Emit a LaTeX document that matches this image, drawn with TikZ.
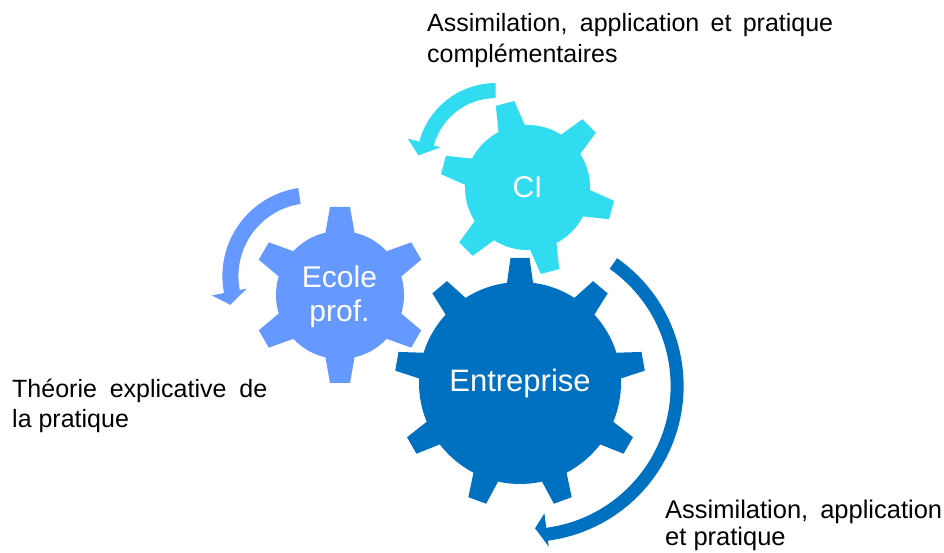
\documentclass[tikz,border=0pt]{standalone}
\usepackage{fontspec}
\setmainfont{Liberation Sans}
\definecolor{entc}{RGB}{0,112,192}
\definecolor{ecoc}{RGB}{102,153,255}
\definecolor{cic}{RGB}{50,220,240}
\newcommand\mygear[9]{%
  \path[#9] (#1,#2) circle[radius=#3];
  \foreach \k in {1,...,#7}{%
    \path[#9, shift={(#1,#2)}, rotate={#8+360/#7*(\k-1)}]
      (#3-4,-#6/2) -- (#4,-#5/2) -- (#4,#5/2) -- (#3-4,#6/2) -- cycle;}%
}
\tikzset{
  gearline/.style={draw=white, line width=3pt, line join=round},
  lbl/.style={font=\fontsize{25}{31}\selectfont, inner sep=0pt, text=black, anchor=base west},
  glabel/.style={inner sep=0pt, text=white, anchor=base},
}
\begin{document}
\begin{tikzpicture}[x=1pt,y=1pt]
\useasboundingbox (0,0) rectangle (944,553);
% curved arrows
\fill[cic, shift={(495.6,390.9)}] (90:79) arc[start angle=90, end angle=165, radius=79]
  -- (165:91) -- (175:77.5) -- (165:57) -- (165:64)
  arc[start angle=165, end angle=90, radius=64] -- cycle;
\fill[ecoc, shift={(311.4,276.9)}] (98.5:89) arc[start angle=98.5, end angle=191, radius=89]
  -- (191:101.5) -- (199.5:86) -- (191:66) -- (191:73)
  arc[start angle=191, end angle=98.5, radius=73] -- cycle;
\fill[entc, shift={(527.6,167)}] (55:156) arc[start angle=55, end angle=-82.5, radius=156]
  -- (-82.5:162) -- (-87:142.5) -- (-82.5:128.5) -- (-82.5:143)
  arc[start angle=-82.5, end angle=55, radius=143] -- cycle;
% gears
\mygear{340}{258}{64}{88}{20}{30}{6}{90}{gearline}
\mygear{340}{258}{64}{88}{20}{30}{6}{90}{fill=ecoc}
\mygear{527.5}{365.5}{62.5}{87}{19}{28}{6}{45}{gearline}
\mygear{527.5}{365.5}{62.5}{87}{19}{28}{6}{45}{fill=cic}
\mygear{520}{170}{101}{125}{19}{27}{9}{90}{gearline}
\mygear{520}{170}{101}{125}{19}{27}{9}{90}{fill=entc}
% gear labels
\node[glabel, font=\fontsize{31}{31}\selectfont] (ent) at (520,161) {Entreprise};
\node[glabel, font=\fontsize{30}{34}\selectfont] (eco1) at (339.5,265) {Ecole};
\node[glabel, font=\fontsize{30}{34}\selectfont] (eco2) at (339.5,231) {prof.};
\node[glabel, font=\fontsize{30}{34}\selectfont] (ci) at (527.5,355) {CI};
% texts
\node[lbl] (t1a) at (427,521) {\makebox[406pt][s]{Assimilation, application et pratique}};
\node[lbl] (t1b) at (427,490) {complémentaires};
\node[lbl] (t2a) at (12,155) {\makebox[255pt][s]{Théorie explicative de}};
\node[lbl] (t2b) at (12,125) {la pratique};
\node[lbl, font=\fontsize{25.5}{31}\selectfont] (t3a) at (665,34.5) {\makebox[277pt][s]{Assimilation, application}};
\node[lbl, font=\fontsize{25.5}{31}\selectfont] (t3b) at (665,7.5) {et pratique};
\end{tikzpicture}
\end{document}
